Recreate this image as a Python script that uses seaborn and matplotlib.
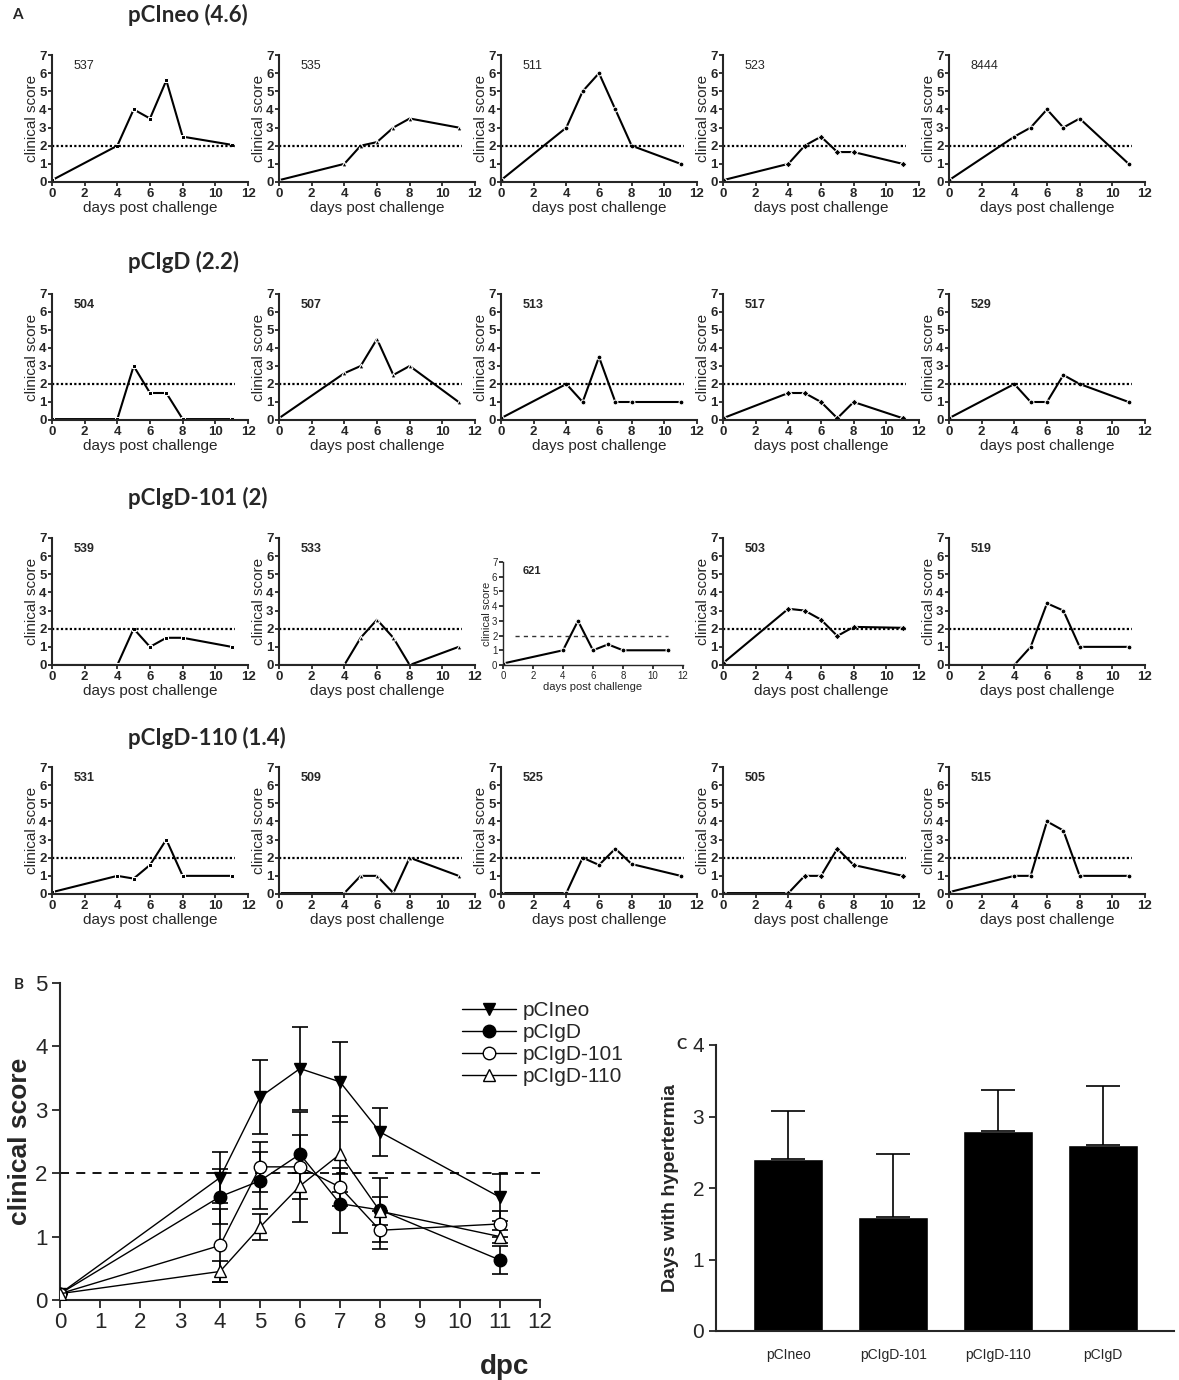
import numpy as np
import pandas as pd
import matplotlib.pyplot as plt
import seaborn as sns

###################################################################################
# Data

days = [0, 4, 5, 6, 7, 8, 11]

group_titles = ['pCIneo (4.6)', 'pCIgD (2.2)', 'pCIgD-101 (2)', 'pCIgD-110 (1.4)']
animal_ids = [['537', '535', '511', '523', '8444'],
              ['504', '507', '513', '517', '529'],
              ['539', '533', '621', '503', '519'],
              ['531', '509', '525', '505', '515']]

pcineo_scores = [[0.1, 2.0, 4.0, 3.5, 5.6, 2.5, 2.05],
                 [0.1, 1.0, 2.0, 2.2, 3.0, 3.5, 3.0],
                 [0.1, 3.0, 5.0, 6.0, 4.0, 2.0, 1.0],
                 [0.1, 1.0, 2.0, 2.5, 1.65, 1.65, 1.0],
                 [0.1, 2.5, 3.0, 4.0, 3.0, 3.5, 1.0]]
pcigd_scores = [[0.05, 0.05, 3.0, 1.5, 1.5, 0.05, 0.05],
                [0.1, 2.6, 3.0, 4.5, 2.5, 3.0, 1.0],
                [0.1, 2.0, 1.0, 3.5, 1.0, 1.0, 1.0],
                [0.1, 1.5, 1.5, 1.0, 0.1, 1.0, 0.1],
                [0.1, 2.0, 1.0, 1.0, 2.5, 2.0, 1.0]]
pcigd101_scores = [[0.0, 0.0, 2.0, 1.0, 1.5, 1.5, 1.0],
                   [0.0, 0.0, 1.5, 2.5, 1.5, 0.0, 1.0],
                   [0.1, 1.0, 3.0, 1.0, 1.4, 1.0, 1.0],
                   [0.1, 3.1, 3.0, 2.5, 1.6, 2.1, 2.05],
                   [0.0, 0.0, 1.0, 3.4, 3.0, 1.0, 1.0]]
pcigd110_scores = [[0.1, 1.0, 0.85, 1.6, 3.0, 1.0, 1.0],
                   [0.05, 0.05, 1.0, 1.0, 0.05, 2.0, 1.0],
                   [0.05, 0.05, 2.0, 1.6, 2.5, 1.65, 1.0],
                   [0.05, 0.05, 1.0, 1.0, 2.5, 1.6, 1.0],
                   [0.1, 1.0, 1.0, 4.0, 3.5, 1.0, 1.0]]
all_scores = [pcineo_scores, pcigd_scores, pcigd101_scores, pcigd110_scores]

# panel B : group means and SEM
b_labels = ['pCIneo', 'pCIgD', 'pCIgD-101', 'pCIgD-110']
b_neo_mean = [0.1, 1.93, 3.2, 3.65, 3.44, 2.65, 1.62]
b_neo_err = [0.0, 0.40, 0.58, 0.65, 0.63, 0.38, 0.37]
b_igd_mean = [0.1, 1.63, 1.88, 2.3, 1.52, 1.42, 0.63]
b_igd_err = [0.0, 0.43, 0.45, 0.30, 0.47, 0.50, 0.22]
b_101_mean = [0.1, 0.86, 2.1, 2.1, 1.78, 1.1, 1.2]
b_101_err = [0.0, 0.58, 0.40, 0.87, 0.30, 0.30, 0.20]
b_110_mean = [0.1, 0.45, 1.15, 1.8, 2.3, 1.4, 1.0]
b_110_err = [0.0, 0.17, 0.21, 0.20, 0.60, 0.22, 0.10]

# panel C : days with hyperthermia
c_groups = ['pCIneo', 'pCIgD-101', 'pCIgD-110', 'pCIgD']
c_days = [2.4, 1.6, 2.8, 2.6]
c_err = [0.67, 0.87, 0.57, 0.82]

###################################################################################
# Style

sns.set_style('ticks')
NARROW = ['Liberation Sans Narrow', 'Liberation Sans', 'DejaVu Sans']
ARIAL = ['Liberation Sans', 'DejaVu Sans']
TITLE = ['Lato', 'DejaVu Sans']
plt.rcParams['font.family'] = NARROW
plt.rcParams['axes.linewidth'] = 1.5
plt.rcParams['xtick.major.width'] = 1.3
plt.rcParams['ytick.major.width'] = 1.3

W, H = 1179, 1380
fig = plt.figure(figsize=(W / 100, H / 100), dpi=100)


def px_axes(left, top, right, bottom):
    return fig.add_axes([left / W, 1 - bottom / H, (right - left) / W, (bottom - top) / H])


###################################################################################
# Panel A : individual curves

col_left = [52, 279, 501, 723, 949]
panel_w = 196
row_top = [55, 294, 538, 767]
row_bot = [182, 420, 665, 894]
title_y = [15, 262, 498, 738]
markers = ['s', '^', 'o', 'D', 'o']

fig.text(12 / W, 1 - 15 / H, 'A', fontsize=11, fontweight='bold', family=TITLE, va='center')

for r in range(4):
    fig.text(128 / W, 1 - title_y[r] / H, group_titles[r], fontsize=16, fontweight='bold',
             family=TITLE, va='center')
    for c in range(5):
        small = (r == 2 and c == 2)
        if small:
            ax = px_axes(col_left[c] + 2, row_top[r] + 24, col_left[c] + 182, row_bot[r])
        else:
            ax = px_axes(col_left[c], row_top[r], col_left[c] + panel_w, row_bot[r])
        df = pd.DataFrame({'day': days, 'score': all_scores[r][c]})
        sns.lineplot(data=df, x='day', y='score', color='black', marker=markers[c],
                     markersize=3.5, linewidth=1.5, ax=ax)
        if small:
            ax.hlines(2, 0.8, 11, colors='#333333', linestyles=(0, (3, 3)), linewidth=1)
        else:
            ax.hlines(2, 0, 11.2, colors='black', linestyles=(0, (1, 1)), linewidth=1.6)
        ax.set_xlim(0, 12)
        ax.set_ylim(0, 7)
        ax.set_xticks(range(0, 13, 2))
        ax.set_yticks(range(0, 8))
        ax.tick_params(length=3, pad=1, labelsize=7 if small else 9.5)
        for lab in ax.get_xticklabels() + ax.get_yticklabels():
            lab.set_fontweight('normal' if small else 'bold')
        ax.set_xlabel('days post challenge', fontsize=8 if small else 11, labelpad=1)
        ax.set_ylabel('clinical score', fontsize=8 if small else 11, labelpad=0)
        ax.text(1.3, 6.4, animal_ids[r][c], fontsize=8 if small else 9, va='center',
                fontweight='bold' if r > 0 else 'normal')
        sns.despine(ax=ax)
        if small:
            for s in ax.spines.values():
                s.set_linewidth(1)

###################################################################################
# Panel B : group means

axb = px_axes(60, 983, 540, 1300)
series_b = [(b_neo_mean, b_neo_err, 'v', 'black'),
            (b_igd_mean, b_igd_err, 'o', 'black'),
            (b_101_mean, b_101_err, 'o', 'white'),
            (b_110_mean, b_110_err, '^', 'white')]
for label, (mean, err, mk, face) in zip(b_labels, series_b):
    axb.errorbar(days, mean, yerr=err, fmt='none', ecolor='black', elinewidth=1.2,
                 capsize=6, capthick=1.2, zorder=2)
    sns.lineplot(x=days, y=mean, color='black', marker=mk, markersize=9,
                 markerfacecolor=face, markeredgecolor='black', markeredgewidth=1,
                 linewidth=1, label=label, ax=axb, zorder=3)
axb.axhline(2, color='black', linestyle=(0, (5, 4)), linewidth=1.3, zorder=1)
axb.set_xlim(0, 12)
axb.set_ylim(0, 5)
axb.set_xticks(range(0, 13))
axb.set_yticks(range(0, 6))
axb.tick_params(labelsize=16, length=6, pad=3)
axb.set_ylabel('clinical score', fontsize=19, fontweight='bold', family=ARIAL, labelpad=2)
axb.set_xlabel('')
axb.text(505 / W, 1 - 1367 / H, 'dpc', transform=fig.transFigure, fontsize=20,
         fontweight='bold', family=ARIAL, ha='center', va='center')
sns.despine(ax=axb)
axb.legend(loc='upper left', bbox_to_anchor=(0.82, 0.97), frameon=False, fontsize=15,
           handlelength=2.6, handletextpad=0.3, labelspacing=0.15, borderaxespad=0)
fig.text(14 / W, 1 - 985 / H, 'B', fontsize=11, fontweight='bold', family=TITLE, va='center')

###################################################################################
# Panel C : days with hyperthermia

axc = px_axes(716, 1045, 1174, 1331)
dfc = pd.DataFrame({'group': c_groups, 'days': c_days})
sns.barplot(data=dfc, x='group', y='days', color='black', saturation=1, width=0.67,
            errorbar=None, ax=axc)
axc.errorbar(range(len(c_groups)), c_days, yerr=[[0] * len(c_err), c_err], fmt='none',
             ecolor='black', elinewidth=1.2, capsize=12, capthick=1.2)
axc.set_xlim(-0.69, 3.68)
axc.set_ylim(0, 4)
axc.set_yticks(range(0, 5))
axc.tick_params(axis='y', labelsize=15, length=5)
axc.tick_params(axis='x', labelsize=10, length=0, pad=12)
axc.set_xlabel('')
axc.set_ylabel('Days with hypertermia', fontsize=14, fontweight='bold',
               family=ARIAL, labelpad=10)
sns.despine(ax=axc)
fig.text(676 / W, 1 - 1045 / H, 'C', fontsize=11, fontweight='bold', family=TITLE, va='center')

fig.savefig('out.png', dpi=100)
